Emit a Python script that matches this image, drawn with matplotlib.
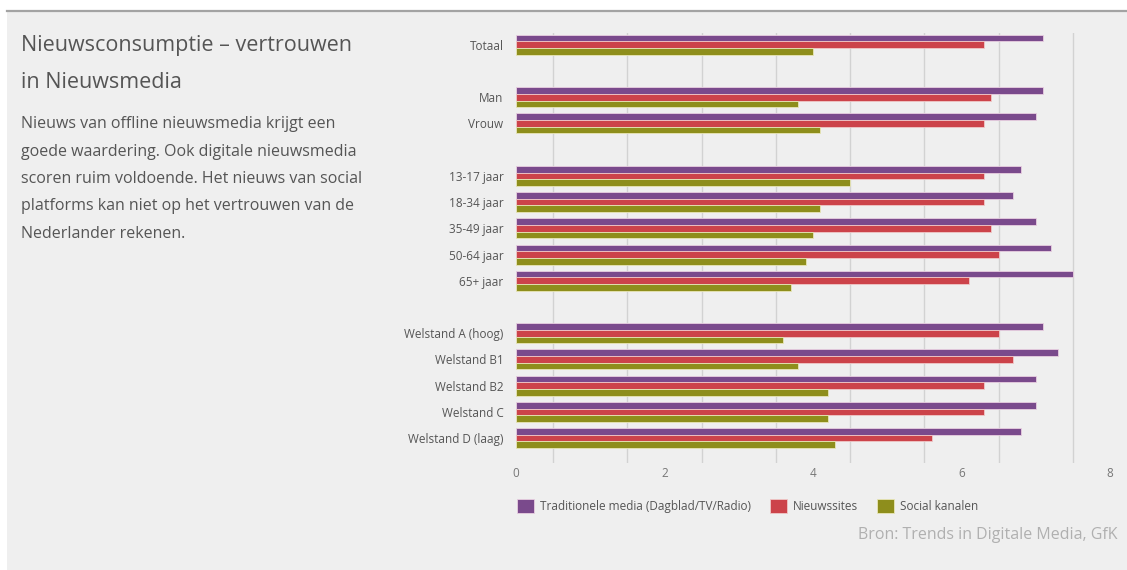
import numpy as np
import matplotlib.pyplot as plt
from matplotlib.patches import Rectangle

# Data
categories = ['Totaal', 'Man', 'Vrouw', '13-17 jaar', '18-34 jaar', '35-49 jaar',
              '50-64 jaar', '65+ jaar', 'Welstand A (hoog)', 'Welstand B1',
              'Welstand B2', 'Welstand C', 'Welstand D (laag)']
slots = [0, 2, 3, 5, 6, 7, 8, 9, 11, 12, 13, 14, 15]
traditioneel = [7.1, 7.1, 7.0, 6.8, 6.7, 7.0, 7.2, 7.5, 7.1, 7.3, 7.0, 7.0, 6.8]
nieuwssites = [6.3, 6.4, 6.3, 6.3, 6.3, 6.4, 6.5, 6.1, 6.5, 6.7, 6.3, 6.3, 5.6]
social = [4.0, 3.8, 4.1, 4.5, 4.1, 4.0, 3.9, 3.7, 3.6, 3.8, 4.2, 4.2, 4.3]
series_names = ['Traditionele media (Dagblad/TV/Radio)', 'Nieuwssites', 'Social kanalen']
xticks = [0, 2, 4, 6, 8]

purple = '#7a4a8c'
red = '#cc434a'
olive = '#8e8e1c'
bg = '#efefef'
fz = 8.5

plt.rcParams['font.family'] = ['Open Sans', 'DejaVu Sans']

fig = plt.figure(figsize=(11.27, 5.70), dpi=100)
fig.patch.set_facecolor('white')
W, H = 1127, 570

# grey panel + top line
fig.patches.append(Rectangle((7 / W, 0), 1 - 7 / W, 1 - 11 / H, transform=fig.transFigure,
                             facecolor=bg, edgecolor='none', zorder=-10))
fig.lines.append(plt.Line2D([7 / W, 1], [1 - 11 / H, 1 - 11 / H], transform=fig.transFigure,
                            color='#a3a3a3', linewidth=1.6, zorder=-5))

ax = fig.add_axes([516 / W, 1 - 463 / H, (1110 - 516) / W, (463 - 33) / H])
ax.set_facecolor('none')
ax.set_zorder(2)

y = np.array(slots, dtype=float)
h = 0.255
ax.barh(y - h, traditioneel, height=h, color=purple, edgecolor='#e8cfe0', linewidth=0.6,
        label=series_names[0], zorder=3)
ax.barh(y, nieuwssites, height=h, color=red, edgecolor='#efc8c8', linewidth=0.6,
        label=series_names[1], zorder=3)
ax.barh(y + h, social, height=h, color=olive, edgecolor='#e8e6b8', linewidth=0.6,
        label=series_names[2], zorder=3)

ax.set_xlim(0, 8)
ax.set_ylim(15.95, -0.45)
ax.set_yticks(y)
ax.set_yticklabels(categories, fontsize=fz, color='#555555')
ax.set_xticks(xticks)
ax.set_xticklabels([str(t) for t in xticks], fontsize=fz, color='#777777')
ax.set_xticks(np.arange(0.5, 8, 1), minor=True)
ax.grid(which='minor', axis='x', color='#d2d2d2', linewidth=1, zorder=0)
ax.tick_params(axis='both', which='both', length=0)
ax.tick_params(axis='y', pad=9)
ax.tick_params(axis='x', pad=3)
for s in ax.spines.values():
    s.set_visible(False)

handles, labels = ax.get_legend_handles_labels()
fig.legend(handles, labels, loc='center left', bbox_to_anchor=(506 / W, 1 - 506 / H),
           ncol=3, frameon=False, fontsize=fz, handlelength=1.5, handleheight=1.5,
           handletextpad=0.45, columnspacing=1.6, labelcolor='#555555')

# texts
fig.text(21 / W, 1 - 46 / H, 'Nieuwsconsumptie \u2013 vertrouwen', fontsize=15.5,
         color='#555555', va='center')
fig.text(21 / W, 1 - 82 / H, 'in Nieuwsmedia', fontsize=15.5, color='#555555', va='center')
body = ['Nieuws van offline nieuwsmedia krijgt een',
        'goede waardering. Ook digitale nieuwsmedia',
        'scoren ruim voldoende. Het nieuws van social',
        'platforms kan niet op het vertrouwen van de',
        'Nederlander rekenen.']
for i, line in enumerate(body):
    fig.text(21 / W, 1 - (124 + 27.5 * i) / H, line, fontsize=11.5, color='#555555', va='center')

fig.text(1117 / W, 1 - 535 / H, 'Bron: Trends in Digitale Media, GfK', fontsize=11.5,
         color='#b0b0b0', ha='right', va='center')

plt.savefig('out.png', dpi=100, facecolor=fig.get_facecolor())
